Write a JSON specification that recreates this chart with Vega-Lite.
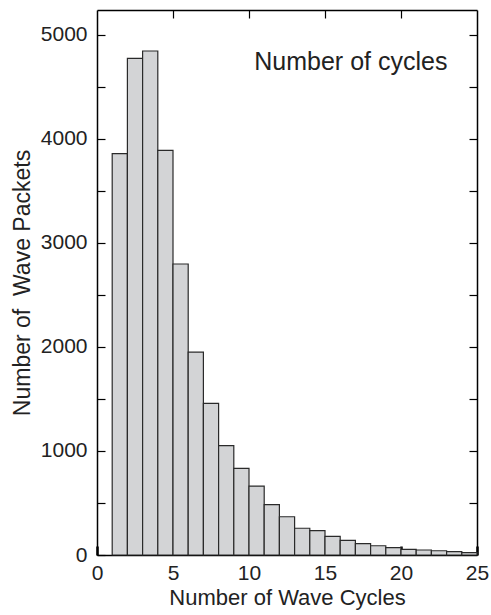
{
  "$schema": "https://vega.github.io/schema/vega-lite/v6.json",
  "autosize": {"type": "none"},
  "padding": {"left": 97, "top": 10, "right": 14, "bottom": 60},
  "width": 380,
  "height": 545,
  "background": "white",
  "config": {
    "view": {"stroke": null},
    "font": "Liberation Sans",
    "axis": {
      "grid": false,
      "domainColor": "black",
      "domainWidth": 1.5,
      "tickColor": "black",
      "labelColor": "#222222",
      "titleColor": "#222222",
      "labelFont": "Liberation Sans",
      "titleFont": "Liberation Sans",
      "titleFontWeight": "normal",
      "labelFontSize": 21,
      "titleFontSize": 22
    }
  },
  "data": {
    "values": [
      {"start": 1, "end": 2, "count": 3860},
      {"start": 2, "end": 3, "count": 4775},
      {"start": 3, "end": 4, "count": 4846},
      {"start": 4, "end": 5, "count": 3890},
      {"start": 5, "end": 6, "count": 2798},
      {"start": 6, "end": 7, "count": 1950},
      {"start": 7, "end": 8, "count": 1458},
      {"start": 8, "end": 9, "count": 1051},
      {"start": 9, "end": 10, "count": 833},
      {"start": 10, "end": 11, "count": 663},
      {"start": 11, "end": 12, "count": 484},
      {"start": 12, "end": 13, "count": 368},
      {"start": 13, "end": 14, "count": 257},
      {"start": 14, "end": 15, "count": 234},
      {"start": 15, "end": 16, "count": 180},
      {"start": 16, "end": 17, "count": 141},
      {"start": 17, "end": 18, "count": 109},
      {"start": 18, "end": 19, "count": 89},
      {"start": 19, "end": 20, "count": 70},
      {"start": 20, "end": 21, "count": 55},
      {"start": 21, "end": 22, "count": 48},
      {"start": 22, "end": 23, "count": 41},
      {"start": 23, "end": 24, "count": 32},
      {"start": 24, "end": 25, "count": 22}
    ]
  },
  "layer": [
    {
      "mark": {"type": "bar", "fill": "#d3d4d6", "stroke": "#2a2a2a", "strokeWidth": 1.2},
      "encoding": {
        "x": {
          "field": "start", "type": "quantitative",
          "scale": {"domain": [0, 25], "nice": false, "zero": false},
          "axis": {
            "orient": "bottom",
            "title": "Number of Wave Cycles",
            "values": [0, 5, 10, 15, 20, 25],
            "tickSize": -9,
            "tickWidth": 2.5,
            "labelPadding": 16,
            "labelFlush": false,
            "titlePadding": 4
          }
        },
        "x2": {"field": "end"},
        "y": {
          "field": "count", "type": "quantitative",
          "scale": {"domain": [0, 5240], "nice": false},
          "axis": {
            "orient": "left",
            "title": "Number of\u00a0 Wave Packets",
            "titleFontSize": 23,
            "values": [0, 500, 1000, 1500, 2000, 2500, 3000, 3500, 4000, 4500, 5000],
            "labelExpr": "datum.value % 1000 == 0 ? datum.label : ''",
            "format": "d",
            "tickSize": -8,
            "tickWidth": 1.2,
            "labelPadding": 18,
            "labelFlush": false,
            "titlePadding": 6
          }
        },
        "y2": {"datum": 0}
      }
    },
    {
      "data": {"values": [{"x": 16.7, "y": 4740, "label": "Number of cycles"}]},
      "mark": {"type": "text", "fontSize": 25, "font": "Liberation Sans", "color": "#222222", "align": "center", "baseline": "middle"},
      "encoding": {
        "x": {
          "field": "x", "type": "quantitative",
          "axis": {
            "orient": "top",
            "title": null,
            "values": [5, 10, 15, 20],
            "tickSize": -8,
            "tickWidth": 1.2,
            "labels": false
          }
        },
        "y": {
          "field": "y", "type": "quantitative",
          "axis": {
            "orient": "right",
            "title": null,
            "values": [500, 1000, 1500, 2000, 2500, 3000, 3500, 4000, 4500, 5000],
            "tickSize": -8,
            "tickWidth": 1.2,
            "labels": false
          }
        },
        "text": {"field": "label"}
      }
    }
  ],
  "resolve": {"axis": {"x": "independent", "y": "independent"}}
}
